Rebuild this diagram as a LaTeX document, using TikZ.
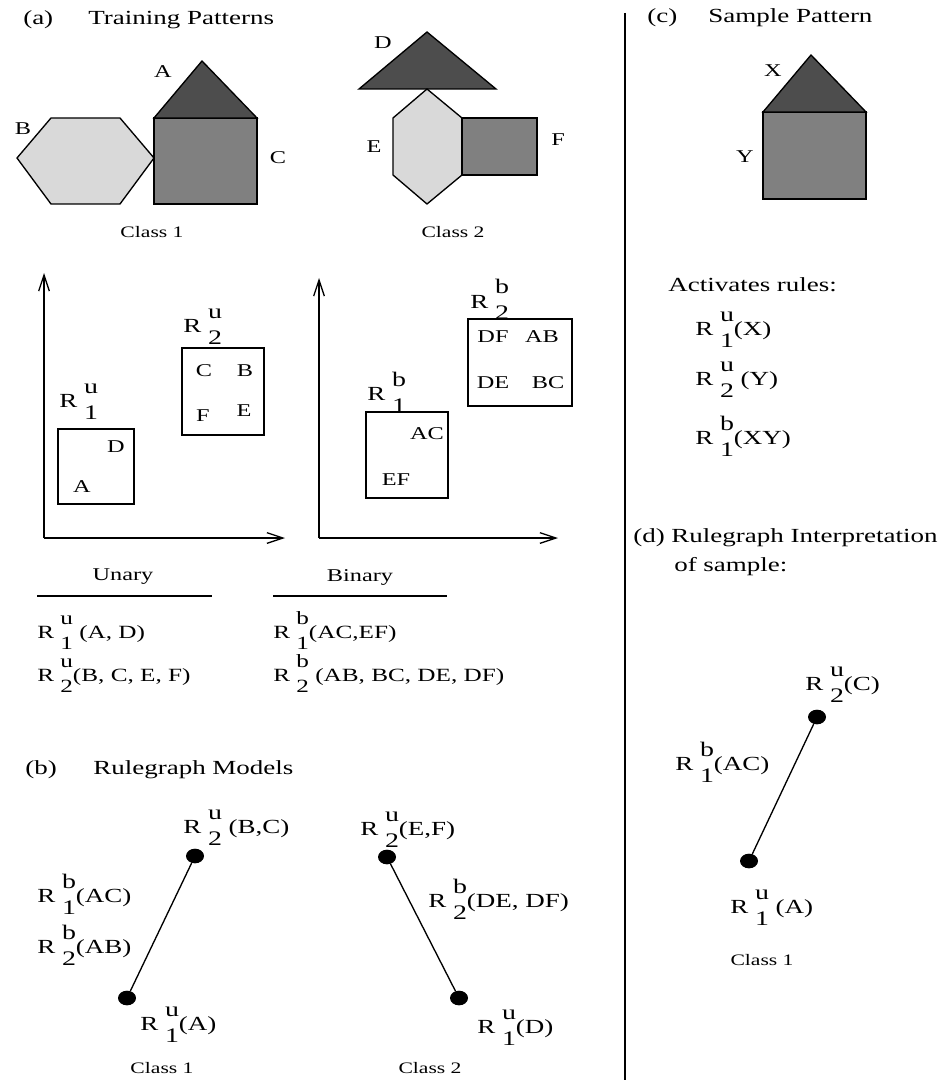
\documentclass[tikz,border=0pt]{standalone}
\usepackage{fontspec}
\setmainfont{Liberation Serif}[FakeStretch=1.35]
\usetikzlibrary{arrows.meta,shapes.geometric}
\newcommand\ssz{\fontsize{15.5}{18}\selectfont}
\newcommand\RL[3]{R\ \rlap{\raisebox{0.7em}{\ssz #1}}\raisebox{-0.6em}{\ssz #2}#3}
\definecolor{shdark}{HTML}{4D4D4D}
\definecolor{shmid}{HTML}{808080}
\definecolor{shlight}{HTML}{D9D9D9}
\begin{document}
\begin{tikzpicture}[x=0.75pt,y=-0.75pt,
  lbl/.style={font=\fontsize{13.5}{16}\selectfont, inner sep=0pt},
  rl/.style={font=\fontsize{15}{18}\selectfont, inner sep=0pt, anchor=base west},
  trl/.style={rl, font=\fontsize{14}{17}\selectfont\let\ssz\relax},
  ttl/.style={font=\fontsize{15}{18}\selectfont, inner sep=0pt, anchor=west},
  cls/.style={font=\fontsize{12}{14}\selectfont, inner sep=0pt},
  shp/.style={draw, line width=1pt, line join=miter},
  axis/.style={line width=1pt, -{Straight Barb[length=12pt,width=8pt]}},
  rbox/.style={draw, line width=1pt},
  dot/.style={ellipse, fill=black, minimum width=13.5pt, minimum height=11pt, inner sep=0pt},
  link/.style={line width=1pt}]
\useasboundingbox (0,0) rectangle (947,1080);

% divider
\coordinate (dvt) at (625,13);
\coordinate (dvb) at (625,1080);
\draw[line width=1.5pt] (dvt) -- (dvb);

% (a) titles
\node[ttl] (ta) at (23,20) {(a)};
\node[ttl] (tb) at (88,20) {Training Patterns};

% class 1 shapes
\draw[shp, fill=shlight] (17,158) -- (51,118) -- (120,118) -- (154,158) -- (120,204) -- (51,204) -- cycle;
\draw[shp, fill=shmid] (154,118) rectangle (257,204);
\draw[shp, fill=shdark] (154,118) -- (202,61) -- (257,118) -- cycle;
\node[lbl] (lA) at (163,72) {A};
\node[lbl] (lB) at (23,129) {B};
\node[lbl] (lC) at (278,158) {C};
\node[cls] (c1a) at (152,232) {Class 1};

% class 2 shapes
\draw[shp, fill=shdark] (359,89) -- (427,32) -- (496,89) -- cycle;
\draw[shp, fill=shlight] (427,89) -- (462,118) -- (462,175) -- (427,204) -- (393,175) -- (393,118) -- cycle;
\draw[shp, fill=shmid] (462,118) rectangle (537,175);
\node[lbl] (lD) at (383,43) {D};
\node[lbl] (lE) at (374,147) {E};
\node[lbl] (lF) at (558,140) {F};
\node[cls] (c2a) at (453,232) {Class 2};

% unary plot
\coordinate (uo) at (44,538);
\coordinate (uy) at (44,273);
\coordinate (ux) at (285,538);
\draw[axis] (uo) -- (uy);
\draw[axis] (uo) -- (ux);
\draw[rbox] (58,429) rectangle (134,504);
\node[lbl] (u1D) at (116,447) {D};
\node[lbl] (u1A) at (82,487) {A};
\node[rl] (u1l) at (59,407) {\RL{u}{1}{}};
\draw[rbox] (182,348) rectangle (264,435);
\node[lbl] (u2C) at (204,371) {C};
\node[lbl] (u2B) at (245,371) {B};
\node[lbl] (u2F) at (203,416) {F};
\node[lbl] (u2E) at (244,411) {E};
\node[rl] (u2l) at (183,332) {\RL{u}{2}{}};

% binary plot
\coordinate (bo) at (319,538);
\coordinate (by) at (319,278);
\coordinate (bx) at (558,538);
\draw[axis] (bo) -- (by);
\draw[axis] (bo) -- (bx);
\draw[rbox] (366,412) rectangle (448,498);
\node[lbl] (b1AC) at (427,434) {AC};
\node[lbl] (b1EF) at (396,480) {EF};
\node[rl] (b1l) at (367,400) {\RL{b}{1}{}};
\draw[rbox] (468,319) rectangle (572,406);
\node[lbl] (b2DF) at (493,337) {DF};
\node[lbl] (b2AB) at (542,337) {AB};
\node[lbl] (b2DE) at (493,383) {DE};
\node[lbl] (b2BC) at (548,383) {BC};
\node[rl] (b2l) at (470,308) {\RL{b}{2}{}};

% table
\node[lbl] (tU) at (123,577) {Unary};
\node[lbl] (tB) at (360,577) {Binary};
\draw[line width=1pt] (37,596) -- (212,596);
\draw[line width=1pt] (273,596) -- (447,596);
\node[trl] (t1) at (37,638) {\RL{u}{1}{ (A, D)}};
\node[trl] (t2) at (37,681) {\RL{u}{2}{(B, C, E, F)}};
\node[trl] (t3) at (273,638) {\RL{b}{1}{(AC,EF)}};
\node[trl] (t4) at (273,681) {\RL{b}{2}{ (AB, BC, DE, DF)}};

% (b)
\node[ttl] (tbb) at (25,770) {(b)};
\node[ttl] (tbm) at (93,770) {Rulegraph Models};
\node[dot] (m1a) at (195,856) {};
\node[dot] (m1b) at (127,998) {};
\draw[link] (m1a) -- (m1b);
\node[rl] (m1al) at (183,833) {\RL{u}{2}{ (B,C)}};
\node[rl] (m1e1) at (37,902) {\RL{b}{1}{(AC)}};
\node[rl] (m1e2) at (37,953) {\RL{b}{2}{(AB)}};
\node[rl] (m1bl) at (140,1030) {\RL{u}{1}{(A)}};
\node[cls] (c1b) at (162,1068) {Class 1};

\node[dot] (m2a) at (387,857) {};
\node[dot] (m2b) at (459,998) {};
\draw[link] (m2a) -- (m2b);
\node[rl] (m2al) at (360,835) {\RL{u}{2}{(E,F)}};
\node[rl] (m2e) at (428,907) {\RL{b}{2}{(DE, DF)}};
\node[rl] (m2bl) at (477,1033) {\RL{u}{1}{(D)}};
\node[cls] (c2b) at (430,1068) {Class 2};

% (c)
\node[ttl] (tc) at (647,18) {(c)};
\node[ttl] (tcs) at (708,18) {Sample Pattern};
\draw[shp, fill=shmid] (763,112) rectangle (866,199);
\draw[shp, fill=shdark] (763,112) -- (811,55) -- (866,112) -- cycle;
\node[lbl] (lX) at (773,71) {X};
\node[lbl] (lY) at (745,157) {Y};
\node[ttl] (act) at (668,285) {Activates rules:};
\node[rl] (a1) at (695,335) {\RL{u}{1}{(X)}};
\node[rl] (a2) at (695,385) {\RL{u}{2}{ (Y)}};
\node[rl] (a3) at (695,444) {\RL{b}{1}{(XY)}};

% (d)
\node[ttl] (td) at (633,538) {(d) Rulegraph Interpretation};
\node[ttl] (td2) at (674,567) {of sample:};
\node[dot] (s2) at (817,717) {};
\node[dot] (s1) at (749,861) {};
\draw[link] (s2) -- (s1);
\node[rl] (s2l) at (805,690) {\RL{u}{2}{(C)}};
\node[rl] (sel) at (675,770) {\RL{b}{1}{(AC)}};
\node[rl] (s1l) at (730,913) {\RL{u}{1}{ (A)}};
\node[cls] (c1d) at (762,960) {Class 1};
\end{tikzpicture}
\end{document}
